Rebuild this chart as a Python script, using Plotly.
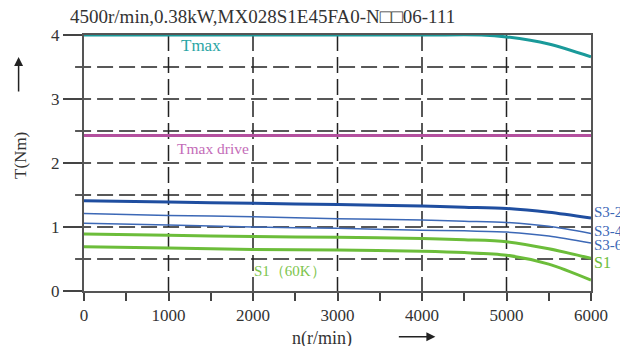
import plotly.graph_objects as go

# ---- data ----
speed = [0, 1000, 2000, 3000, 4000, 4500, 5000, 5500, 6000]
s3_25 = [1.41, 1.39, 1.37, 1.35, 1.33, 1.31, 1.29, 1.23, 1.14]
s3_40 = [1.21, 1.18, 1.16, 1.13, 1.11, 1.09, 1.07, 1.01, 0.90]
s3_60 = [1.06, 1.03, 1.00, 0.98, 0.95, 0.94, 0.92, 0.86, 0.75]
s1 = [0.89, 0.87, 0.85, 0.84, 0.82, 0.80, 0.77, 0.66, 0.51]
s1_60k = [0.69, 0.67, 0.65, 0.64, 0.62, 0.60, 0.56, 0.42, 0.17]
tmax_speed = [0, 4000, 4700, 5000, 5500, 6000]
tmax = [4.0, 4.0, 4.0, 3.97, 3.86, 3.66]
tmax_drive_speed = [0, 6000]
tmax_drive = [2.43, 2.43]
x_ticks = [0, 1000, 2000, 3000, 4000, 5000, 6000]
y_ticks = [0, 1, 2, 3, 4]
grid_y = [0.5, 1, 1.5, 2, 2.5, 3, 3.5]
grid_x = [1000, 2000, 3000, 4000, 5000]
title = "4500r/min,0.38kW,MX028S1E45FA0-N□□06-111"

FONT = "Liberation Serif"
TEAL = "#1a9a9a"
MAG = "#b4509e"
BLUE = "#1f4ea0"
BLUE2 = "#3c68b6"
GREEN = "#6cbd3a"

fig = go.Figure()

# dashed grid drawn as shapes
for gy in grid_y:
    fig.add_shape(type="line", xref="paper", yref="y", x0=-0.0176, x1=1, y0=gy, y1=gy,
                  line=dict(color="#222", width=1.5, dash="16px,6px"), layer="below")
for gx in grid_x:
    fig.add_shape(type="line", xref="x", yref="y", x0=gx, x1=gx, y0=4, y1=0,
                  line=dict(color="#222", width=1.5, dash="16px,6px"), layer="below")

def add(xs, ys, color, width):
    fig.add_trace(go.Scatter(x=xs, y=ys, mode="lines",
                             line=dict(color=color, width=width, shape="spline", smoothing=0.8),
                             showlegend=False, hoverinfo="skip"))

add(tmax_speed, tmax, TEAL, 3)
add(tmax_drive_speed, tmax_drive, MAG, 3)
add(speed, s3_25, BLUE, 3)
add(speed, s3_40, BLUE2, 1.5)
add(speed, s3_60, BLUE2, 1.5)
add(speed, s1, GREEN, 3)
add(speed, s1_60k, GREEN, 3)

ann = []
def label(x, y, text, color, xref="x", yref="y", size=15, xanchor="left", xshift=0):
    ann.append(dict(x=x, y=y, xref=xref, yref=yref, text=text, showarrow=False,
                    xanchor=xanchor, yanchor="middle", xshift=xshift,
                    font=dict(family=FONT, size=size, color=color)))

label(1130, 3.83, "Tmax", "#2aa5a5", size=17)
label(1080, 2.23, "Tmax drive", "#c46cb8", size=15.5)
label(1990, 0.31, "S1（60K）", "#7cc44c")
label(6000, 1.23, "S3-25%", BLUE2, size=15, xshift=1)
label(6000, 0.94, "S3-40%", BLUE2, size=15, xshift=1)
label(6000, 0.72, "S3-60%", BLUE2, size=15, xshift=1)
label(6000, 0.45, "S1", GREEN, size=16, xshift=1)

# title and axis titles
label(-0.031, 1.074, title, "#333", xref="paper", yref="paper", size=19)
ann.append(dict(x=-0.125, y=0.53, xref="paper", yref="paper", text="T(Nm)", textangle=-90,
                xanchor="center", yanchor="middle",
                showarrow=False, font=dict(family=FONT, size=17, color="#333")))
ann.append(dict(x=0.47, y=-0.184, xref="paper", yref="paper", text="n(r/min)",
                xanchor="center", yanchor="middle",
                showarrow=False, font=dict(family=FONT, size=18, color="#333")))
# arrows
ann.append(dict(x=-0.129, y=0.914, xref="paper", yref="paper", text="", showarrow=True,
                ax=0, ay=36, arrowhead=2, arrowsize=1.2, arrowwidth=1.5, arrowcolor="#222"))
ann.append(dict(x=0.693, y=-0.1785, xref="paper", yref="paper", text="", showarrow=True,
                ax=-38, ay=0, arrowhead=2, arrowsize=1.2, arrowwidth=1.5, arrowcolor="#222"))

fig.update_layout(
    width=620, height=346,
    margin=dict(l=84, r=24, t=35, b=55),
    paper_bgcolor="white", plot_bgcolor="white",
    annotations=ann,
    xaxis=dict(range=[0, 6000], tickvals=x_ticks, ticks="outside", ticklen=8, tickwidth=1.5,
               tickcolor="#444", showgrid=False, zeroline=False, showline=True, linecolor="#555",
               linewidth=2, mirror=True,
               minor=dict(dtick=500, ticks="outside", ticklen=8, tickwidth=1.5, tickcolor="#444", showgrid=False),
               tickfont=dict(family=FONT, size=17, color="#333")),
    yaxis=dict(range=[0, 4], tickvals=y_ticks, ticks="outside", ticklen=19, tickwidth=1.5,
               tickcolor="#444", showgrid=False, zeroline=False, showline=True, linecolor="#555",
               linewidth=2, mirror=True,
               tickfont=dict(family=FONT, size=17, color="#333")),
)

fig.write_html("out.html")
